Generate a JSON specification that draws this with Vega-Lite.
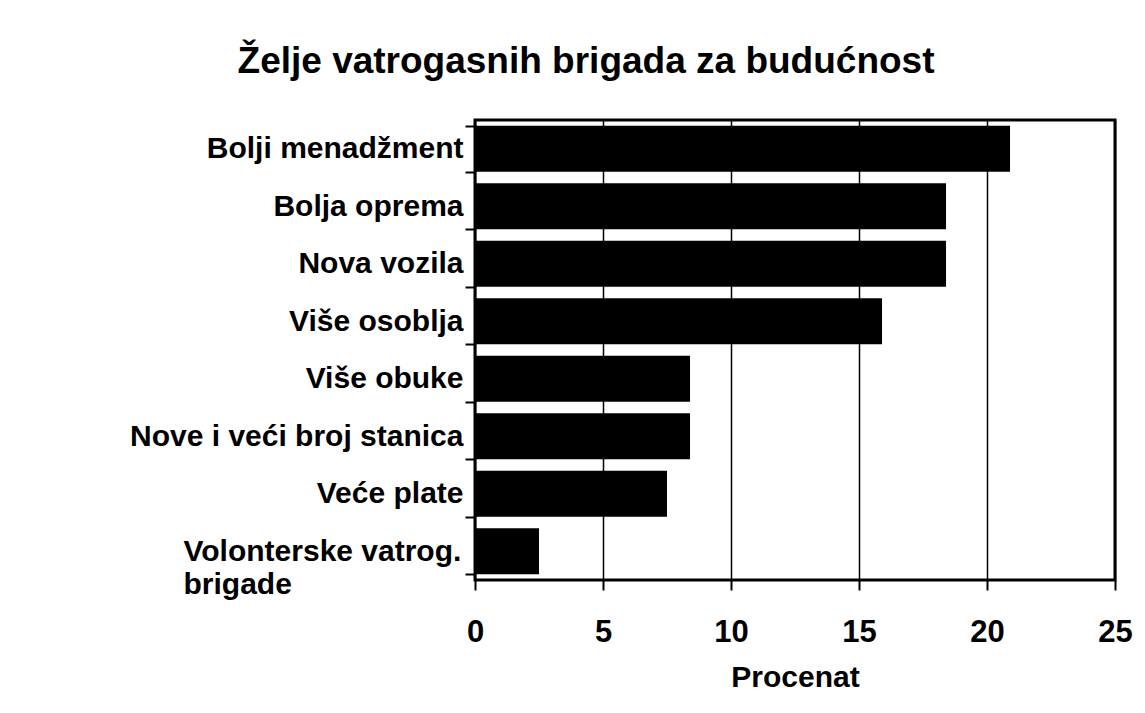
{
  "$schema": "https://vega.github.io/schema/vega-lite/v6.json",
  "autosize": "none",
  "padding": {"left": 475, "top": 120, "right": 30, "bottom": 133},
  "width": 640,
  "height": 460,
  "background": "white",
  "title": {
    "text": "Želje vatrogasnih brigada za budućnost",
    "font": "Liberation Sans",
    "fontSize": 37,
    "fontWeight": "bold",
    "color": "black",
    "anchor": "middle",
    "frame": "group",
    "dx": -209,
    "offset": 24
  },
  "data": {
    "values": [
      {"zelja": "Bolji menadžment", "procenat": 20.9},
      {"zelja": "Bolja oprema", "procenat": 18.4},
      {"zelja": "Nova vozila", "procenat": 18.4},
      {"zelja": "Više osoblja", "procenat": 15.9},
      {"zelja": "Više obuke", "procenat": 8.4},
      {"zelja": "Nove i veći broj stanica", "procenat": 8.4},
      {"zelja": "Veće plate", "procenat": 7.5},
      {"zelja": "Volonterske vatrog. brigade", "procenat": 2.5}
    ]
  },
  "mark": {"type": "bar", "color": "black"},
  "encoding": {
    "y": {
      "field": "zelja",
      "type": "nominal",
      "sort": null,
      "scale": {"paddingInner": 0.2, "paddingOuter": 0.1},
      "axis": {
        "title": null,
        "domain": false,
        "tickBand": "extent",
        "tickSize": 10,
        "tickWidth": 2,
        "tickColor": "black",
        "labelFont": "Liberation Sans",
        "labelFontSize": 30,
        "labelFontWeight": "bold",
        "labelColor": "black",
        "labelPadding": {"condition": {"test": "datum.value == 'Volonterske vatrog. brigade'", "value": 282}, "value": 2},
        "labelAlign": {"condition": {"test": "datum.value == 'Volonterske vatrog. brigade'", "value": "left"}, "value": "right"},
        "labelLimit": 500,
        "labelLineHeight": 33,
        "labelExpr": "datum.value == 'Volonterske vatrog. brigade' ? ['Volonterske vatrog.', 'brigade'] : datum.label"
      }
    },
    "x": {
      "field": "procenat",
      "type": "quantitative",
      "scale": {"domain": [0, 25], "nice": false},
      "axis": {
        "title": "Procenat",
        "values": [0, 5, 10, 15, 20, 25],
        "domain": false,
        "grid": true,
        "gridColor": "black",
        "gridWidth": 1.5,
        "gridOpacity": 1,
        "tickSize": 10,
        "tickWidth": 2,
        "tickColor": "black",
        "labelFont": "Liberation Sans",
        "labelFontSize": 31,
        "labelFontWeight": "bold",
        "labelColor": "black",
        "labelPadding": 27,
        "labelFlush": false,
        "titleFont": "Liberation Sans",
        "titleFontSize": 30,
        "titleFontWeight": "bold",
        "titleColor": "black",
        "titlePadding": 15
      }
    }
  },
  "config": {
    "view": {"stroke": "black", "strokeWidth": 3}
  }
}
